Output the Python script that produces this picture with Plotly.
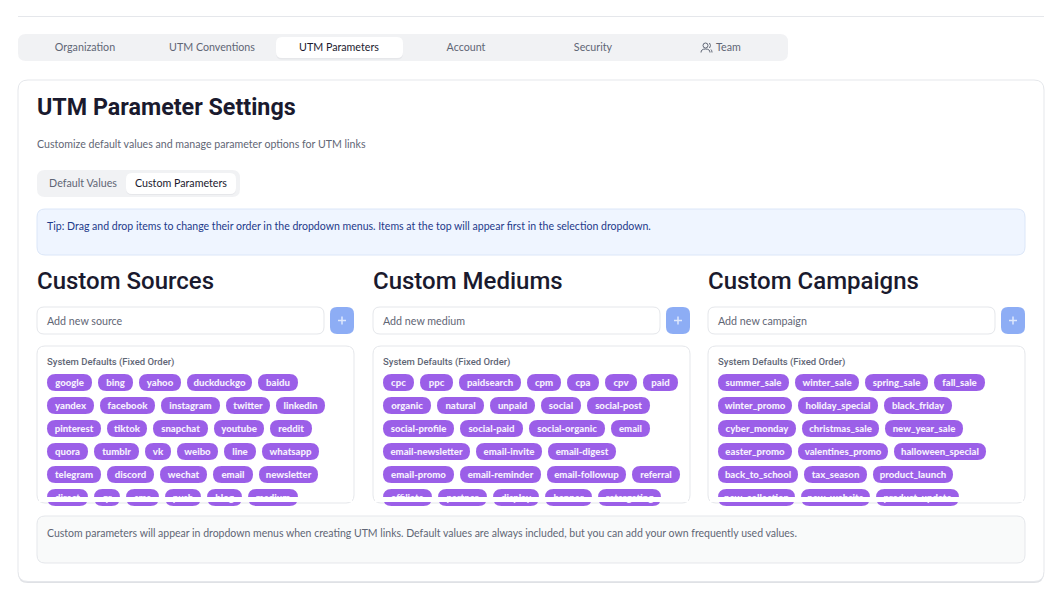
import plotly.graph_objects as go

WIDTH = 1052
HEIGHT = 592

BODY_FONT = "Lato"
HEAD_FONT = "Roboto"
INK = "#1a1a2e"
MUTED = "#5f6675"
BORDER = "#e5e7eb"
TAB_BG = "#f1f2f4"
CHIP = "#9b5fe8"
CHIP_TEXT = "#f6f0fe"
BLUE_BTN = "#8dadf5"
TEXT_NUDGE = 1.5  # scatter text sits a little high of the requested y

TABS = ["Organization", "UTM Conventions", "UTM Parameters", "Account", "Security", "Team"]
SUB_TABS = ["Default Values", "Custom Parameters"]
HEADINGS = ["Custom Sources", "Custom Mediums", "Custom Campaigns"]
PLACEHOLDERS = ["Add new source", "Add new medium", "Add new campaign"]

SOURCES = [
    "google", "bing", "yahoo", "duckduckgo", "baidu",
    "yandex", "facebook", "instagram", "twitter", "linkedin",
    "pinterest", "tiktok", "snapchat", "youtube", "reddit",
    "quora", "tumblr", "vk", "weibo", "line", "whatsapp",
    "telegram", "discord", "wechat", "email", "newsletter",
    "direct", "qr", "sms", "push", "blog", "medium",
]
SOURCE_WIDTHS = [
    45, 35, 42, 65, 40,
    47, 55, 59, 44, 49,
    54, 40, 55, 50, 42,
    41, 45, 26, 41, 32, 57,
    54, 47, 47, 40, 59,
    41, 26, 33, 36, 35, 50,
]
MEDIUMS = [
    "cpc", "ppc", "paidsearch", "cpm", "cpa", "cpv", "paid",
    "organic", "natural", "unpaid", "social", "social-post",
    "social-profile", "social-paid", "social-organic", "email",
    "email-newsletter", "email-invite", "email-digest",
    "email-promo", "email-reminder", "email-followup", "referral",
    "affiliate", "partner", "display", "banner", "retargeting",
]
MEDIUM_WIDTHS = [
    31, 33, 62, 34, 32, 32, 35,
    48, 47, 45, 40, 63,
    71, 63, 76, 39,
    87, 66, 68,
    71, 81, 79, 48,
    49, 49, 46, 47, 63,
]
CAMPAIGNS = [
    "summer_sale", "winter_sale", "spring_sale", "fall_sale",
    "winter_promo", "holiday_special", "black_friday",
    "cyber_monday", "christmas_sale", "new_year_sale",
    "easter_promo", "valentines_promo", "halloween_special",
    "back_to_school", "tax_season", "product_launch",
    "new_collection", "new_website", "product_update",
]
CAMPAIGN_WIDTHS = [
    71, 64, 63, 51,
    74, 80, 68,
    78, 77, 78,
    74, 90, 92,
    80, 63, 80,
    77, 69, 83,
]

TIP_TEXT = (
    "Tip: Drag and drop items to change their order in the dropdown menus. "
    "Items at the top will appear first in the selection dropdown."
)
FOOTER_TEXT = (
    "Custom parameters will appear in dropdown menus when creating UTM links. "
    "Default values are always included, but you can add your own frequently used values."
)

shapes = []
fig = go.Figure()


def rounded(x0, y0, x1, y1, r):
    return (
        f"M{x0 + r},{y0} L{x1 - r},{y0} Q{x1},{y0} {x1},{y0 + r} "
        f"L{x1},{y1 - r} Q{x1},{y1} {x1 - r},{y1} "
        f"L{x0 + r},{y1} Q{x0},{y1} {x0},{y1 - r} "
        f"L{x0},{y0 + r} Q{x0},{y0} {x0 + r},{y0} Z"
    )


def add_box(x0, y0, x1, y1, r, fill, line=None, layer="below"):
    shapes.append(dict(
        type="path",
        path=rounded(x0, y0, x1, y1, r),
        fillcolor=fill,
        line=dict(color=line or fill, width=1 if line else 0),
        layer=layer,
        xref="x",
        yref="y",
    ))


def add_text(x, y, text, size, color, family=BODY_FONT, weight=400, pos="middle right"):
    fig.add_trace(go.Scatter(
        x=[x],
        y=[y + TEXT_NUDGE],
        mode="text",
        text=[text],
        textposition=pos,
        textfont=dict(family=family, size=size, color=color, weight=weight),
        hoverinfo="skip",
        showlegend=False,
    ))


def add_chips(labels, widths, left, right):
    x = left
    y = 374
    for label, w in zip(labels, widths):
        if x + w > right:
            x = left
            y += 23
        add_box(x, y, x + w, y + 17, 8.5, CHIP)
        add_text(x + w / 2, y + 8, label, 9.6, CHIP_TEXT, weight=900, pos="middle center")
        x += w + 6


# page frame
shapes.append(dict(type="line", x0=18, x1=1044, y0=16.5, y1=16.5, line=dict(color=BORDER, width=1), layer="below"))

# top tabs
add_box(18, 34, 788, 61, 8, TAB_BG)
add_box(276, 38.5, 403, 59.5, 6, "#e6e7ea")
add_box(276, 37, 403, 58, 6, "#ffffff")
for i, tab in enumerate(TABS):
    color = INK if i == 2 else MUTED
    if tab == "Team":
        add_text(716, 47, tab, 10.7, color)
    else:
        add_text(85 + 127 * i, 47, tab, 10.7, color, pos="middle center")

# team icon
shapes.append(dict(type="circle", x0=703, x1=708, y0=43, y1=48, line=dict(color=MUTED, width=1), layer="below"))
shapes.append(dict(type="path", path="M701,52.5 Q701,49 705.5,49 Q710,49 710,52.5", line=dict(color=MUTED, width=1), layer="below"))
shapes.append(dict(type="path", path="M709.5,43 Q711.5,45.5 709.5,48 M711,49.5 Q712,50.5 712,52.5", line=dict(color=MUTED, width=1), layer="below"))

# main card
add_box(18, 81, 1044, 583, 10, "#dfe1e5")
add_box(18, 80, 1044, 581.5, 10, "#ffffff", BORDER)
add_text(37, 108, "UTM Parameter Settings", 23.3, INK, family=HEAD_FONT, weight=700)
add_text(37, 144, "Customize default values and manage parameter options for UTM links", 10.6, MUTED)

# sub tabs
add_box(37, 170, 240, 197, 8, TAB_BG)
add_box(126, 174.5, 236, 195, 6, "#e6e7ea")
add_box(126, 173, 236, 194, 6, "#ffffff")
add_text(83, 183, SUB_TABS[0], 10.7, MUTED, pos="middle center")
add_text(181, 183, SUB_TABS[1], 10.7, INK, pos="middle center")

# tip
add_box(37, 209, 1025, 255, 8, "#eff5ff", "#dbe6f8")
add_text(47, 226, TIP_TEXT, 10.55, "#1e3a8a")

# three columns
columns = [
    (37, SOURCES, SOURCE_WIDTHS),
    (373, MEDIUMS, MEDIUM_WIDTHS),
    (708, CAMPAIGNS, CAMPAIGN_WIDTHS),
]
for n, (left, labels, widths) in enumerate(columns):
    add_text(left, 281.5, HEADINGS[n], 24, INK, family=HEAD_FONT, weight=500)
    add_box(left, 307, left + 287, 334, 7, "#ffffff", BORDER)
    add_text(left + 10, 321, PLACEHOLDERS[n], 10.7, MUTED)
    add_box(left + 293, 307, left + 317, 334, 7, BLUE_BTN)
    cx = left + 305
    shapes.append(dict(type="line", x0=cx - 4, x1=cx + 4, y0=320.5, y1=320.5, line=dict(color="#dfe8fc", width=1.5), layer="below"))
    shapes.append(dict(type="line", x0=cx, x1=cx, y0=316.5, y1=324.5, line=dict(color="#dfe8fc", width=1.5), layer="below"))
    add_box(left, 346, left + 317, 503, 8, "#ffffff", BORDER)
    add_text(left + 10, 361, "System Defaults (Fixed Order)", 9.5, MUTED, family=HEAD_FONT, weight=500)
    add_chips(labels, widths, left + 10, left + 308)
    # the list scrolls, so the last row is cut off above the border
    shapes.append(dict(
        type="rect", x0=left + 2, x1=left + 315, y0=497, y1=502,
        fillcolor="#ffffff", line=dict(width=0), layer="above",
    ))

# footer note
add_box(37, 516, 1025, 563, 8, "#f9fafa", BORDER)
add_text(47, 533, FOOTER_TEXT, 10.5, MUTED)

fig.update_layout(
    width=WIDTH,
    height=HEIGHT,
    margin=dict(l=0, r=0, t=0, b=0),
    paper_bgcolor="#ffffff",
    plot_bgcolor="#ffffff",
    showlegend=False,
    shapes=shapes,
    xaxis=dict(range=[0, WIDTH], visible=False, fixedrange=True),
    yaxis=dict(range=[HEIGHT, 0], visible=False, fixedrange=True),
)

fig.write_html(
    "out.html",
    config={"displayModeBar": False},
    post_script="document.body.style.margin='0';",
)
